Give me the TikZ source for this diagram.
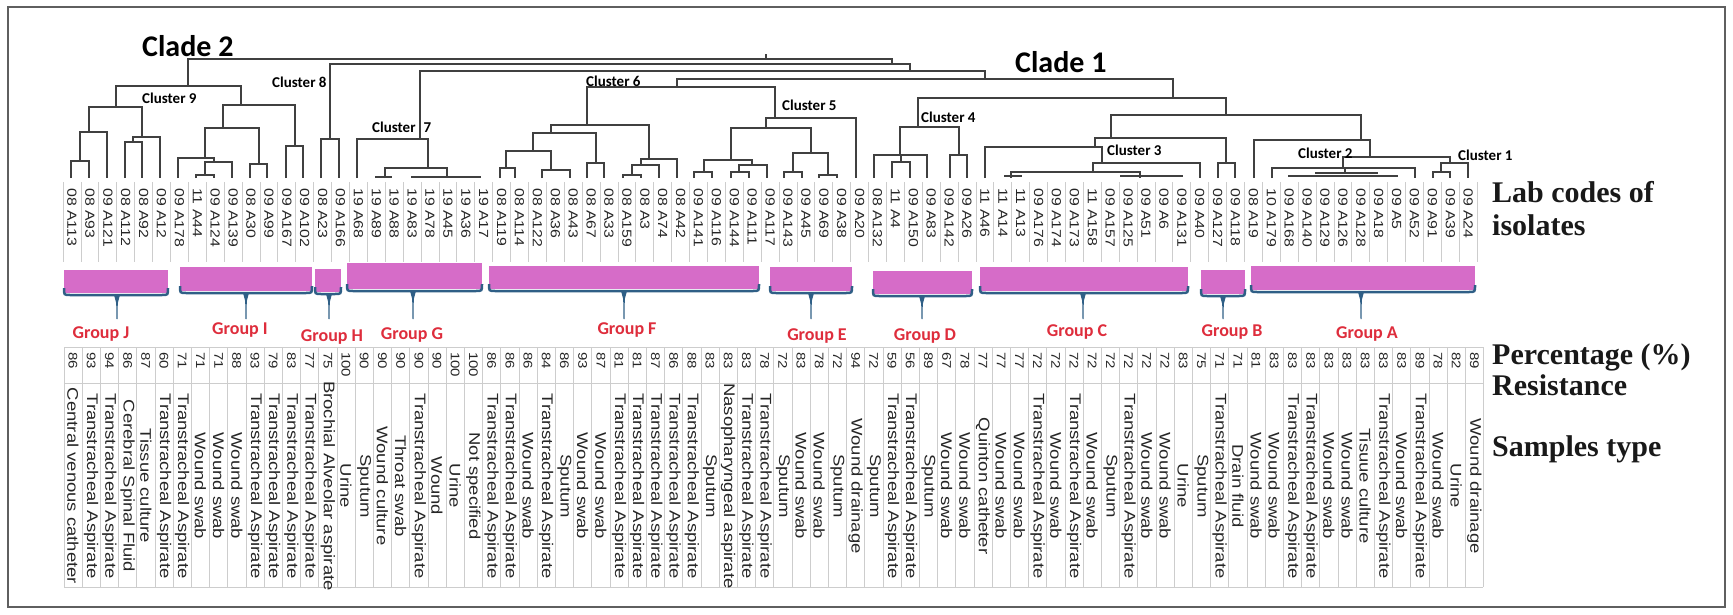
\documentclass[tikz,border=0pt]{standalone}
\usepackage{fontspec}
\setmainfont{Liberation Serif}
\newfontfamily\cellfont[FakeStretch=1.2]{Liberation Sans}
\newfontfamily\clusterfont{Carlito}

\definecolor{groupred}{RGB}{222,45,60}
\definecolor{groupfill}{RGB}{214,108,200}
\definecolor{groupedge}{RGB}{47,95,134}
\definecolor{gridgray}{RGB}{205,205,205}
\definecolor{framegray}{RGB}{95,95,95}

\tikzset{
  dendro/.style={draw=black!75, line width=1.2pt},
  codetext/.style={rotate=-90, anchor=west, inner sep=0pt, text=black!85,
    font=\cellfont\fontsize{13.2}{14}\selectfont},
  pcttext/.style={rotate=-90, anchor=west, inner sep=0pt, text=black!85,
    font=\cellfont\fontsize{12.5}{14}\selectfont},
  samptext/.style={rotate=-90, anchor=center, inner sep=0pt, text=black!85,
    font=\cellfont\fontsize{15.4}{17}\selectfont},
  clusterlabel/.style={anchor=west, inner sep=0pt,
    font=\clusterfont\bfseries\fontsize{15}{18}\selectfont},
  cladelabel/.style={anchor=west, inner sep=0pt,
    font=\clusterfont\bfseries\fontsize{30}{34}\selectfont},
  grouplabel/.style={inner sep=0pt, text=groupred,
    font=\clusterfont\bfseries\fontsize{18}{20}\selectfont},
  rowtitle/.style={anchor=base west, inner sep=0pt, text=black!90,
    font=\bfseries\fontsize{30}{34}\selectfont},
  gridline/.style={draw=gridgray, line width=0.8pt},
}

% one bracket of the tree: left x, left bottom, right x, right bottom, bar height
\newcommand\dbr[5]{\draw[dendro] (#1,#2) |- (#3,#5) -- (#3,#4);}

\begin{document}
\begin{tikzpicture}[x=1pt, y=-1pt]
  \useasboundingbox (0,0) rectangle (1733,614);
  \draw[framegray, line width=2pt] (8,7) rectangle (1725,607);

  \def\leafy{178}
  \def\TA{Transtracheal Aspirate}
  \def\WS{Wound swab}

  % Tree: root and main backbone
  \draw[dendro] (766,54) -- (766,59);
  \dbr{188}{86}{892}{64}{59}
  \dbr{330}{139}{910}{71}{64}
  \dbr{420}{139}{985}{79}{71}
  \dbr{677}{87}{1173}{98}{79}
  \dbr{918}{127}{1226}{115}{98}
  \dbr{1111}{138}{1361}{140}{115}

  % Cluster 9
  \dbr{116}{107}{241}{105}{86}
  \dbr{89}{132}{142}{137}{107}
  \dbr{80}{161}{107}{\leafy}{132}
  \dbr{71}{\leafy}{89}{\leafy}{161}
  \dbr{133}{142}{160}{\leafy}{137}
  \dbr{125}{\leafy}{142}{\leafy}{142}
  \dbr{223}{128}{295}{146}{105}
  \dbr{205}{158}{259}{164}{128}
  \dbr{178}{\leafy}{214}{162}{158}
  \dbr{205}{175}{232}{\leafy}{162}
  \dbr{196}{\leafy}{214}{\leafy}{175}
  \dbr{250}{\leafy}{267}{\leafy}{164}
  \dbr{286}{\leafy}{303}{\leafy}{146}

  % Cluster 8 and 7
  \dbr{321}{\leafy}{339}{\leafy}{139}
  \dbr{357}{\leafy}{428}{168}{139}
  \dbr{385}{\leafy}{447}{\leafy}{168}
  \draw[dendro] (375,177) -- (392,177) (411,177) -- (481,177);

  % Cluster 6
  \dbr{587}{125}{775}{118}{87}
  \dbr{551}{133}{649}{159}{125}
  \dbr{533}{151}{596}{163}{133}
  \dbr{506}{168}{551}{170}{151}
  \dbr{500}{\leafy}{515}{\leafy}{168}
  \dbr{542}{\leafy}{570}{\leafy}{170}
  \dbr{587}{\leafy}{604}{\leafy}{163}
  \dbr{641}{165}{677}{\leafy}{159}
  \dbr{632}{175}{659}{\leafy}{165}
  \dbr{623}{\leafy}{641}{\leafy}{175}

  % Cluster 5
  \dbr{766}{128}{856}{\leafy}{118}
  \dbr{731}{160}{811}{153}{128}
  \dbr{704}{172}{752}{165}{160}
  \dbr{694}{\leafy}{712}{\leafy}{172}
  \dbr{739}{172}{767}{\leafy}{165}
  \dbr{731}{\leafy}{749}{\leafy}{172}
  \dbr{793}{172}{828}{175}{153}
  \dbr{784}{\leafy}{802}{\leafy}{172}
  \dbr{819}{\leafy}{837}{\leafy}{175}

  % Cluster 4
  \dbr{900}{155}{959}{155}{127}
  \dbr{874}{\leafy}{927}{\leafy}{155}
  \draw[dendro] (901,155) -- (901,162);
  \dbr{892}{\leafy}{910}{\leafy}{162}
  \dbr{950}{\leafy}{967}{\leafy}{155}

  % Cluster 3
  \dbr{1095}{147}{1226}{163}{138}
  \dbr{1218}{\leafy}{1235}{\leafy}{163}
  \dbr{985}{\leafy}{1102}{163}{147}
  \dbr{1093}{172}{1200}{\leafy}{163}
  \dbr{1011}{\leafy}{1140}{\leafy}{172}
  \draw[dendro] (1004,176) -- (1022,176) (1120,176) -- (1183,176);

  % Cluster 2 and 1
  \dbr{1254}{\leafy}{1370}{157}{140}
  \dbr{1343}{168}{1450}{163}{157}
  \dbr{1272}{\leafy}{1415}{\leafy}{168}
  \draw[dendro] (1345,168) -- (1345,173) (1315,173) -- (1378,173) (1288,176) -- (1398,176);
  \dbr{1441}{172}{1468}{\leafy}{163}
  \dbr{1433}{\leafy}{1450}{\leafy}{172}

  % Clade and cluster names
  \node[cladelabel] (clade2) at (142,46) {Clade 2};
  \node[cladelabel] (clade1) at (1015,62) {Clade 1};
  \node[clusterlabel] (cl9) at (142,98) {Cluster 9};
  \node[clusterlabel] (cl8) at (272,82) {Cluster 8};
  \node[clusterlabel] (cl7) at (372,127) {Cluster\hspace{8pt}7};
  \node[clusterlabel] (cl6) at (586,81) {Cluster 6};
  \node[clusterlabel] (cl5) at (782,105) {Cluster 5};
  \node[clusterlabel] (cl4) at (921,117) {Cluster 4};
  \node[clusterlabel] (cl3) at (1107,150) {Cluster 3};
  \node[clusterlabel] (cl2) at (1298,153) {Cluster 2};
  \node[clusterlabel] (cl1) at (1458,155) {Cluster 1};

  % Lab codes of isolates
  \foreach \k in {0,...,79}
    \draw[gridline] ({63.05+17.9*\k},182) -- ({63.05+17.9*\k},262);
  \foreach \c [count=\i from 0] in {08 A113, 08 A93, 09 A121, 08 A112, 08 A92,
      09 A12, 09 A178, 11 A44, 09 A124, 09 A139, 08 A30, 09 A99, 09 A167,
      09 A102, 08 A23, 09 A166, 19 A68, 19 A89, 19 A88, 19 A83, 19 A78,
      19 A45, 19 A36, 19 A17, 08 A119, 08 A114, 08 A122, 08 A36, 08 A43,
      08 A67, 08 A33, 08 A159, 08 A3, 08 A74, 08 A42, 09 A141, 09 A116,
      09 A144, 09 A111, 09 A117, 09 A143, 09 A45, 09 A69, 09 A38, 09 A20,
      08 A132, 11 A4, 09 A150, 09 A83, 09 A142, 09 A26, 11 A46, 11 A14,
      11 A13, 09 A176, 09 A174, 09 A173, 11 A158, 09 A157, 09 A125, 09 A51,
      09 A6, 09 A131, 09 A40, 09 A127, 09 A118, 08 A19, 10 A179, 09 A168,
      09 A140, 09 A129, 09 A126, 09 A128, 09 A18, 09 A5, 09 A52, 09 A91,
      09 A39, 09 A24}
    \node[codetext] (code\i) at ({72+17.9*\i},188) {\c};

  % Group bars
  \foreach \xa/\xb/\yt/\yb/\xt/\nm/\lx/\ly in {
      64/168/270/295/117/J/101/334, 180/312/267/293/246/I/240/330,
      315/341/269/294/329/H/332/337, 347/482/263/291/413/G/412/335,
      489/759/266/291/624/F/627/330, 770/852/267/293/811/E/817/336,
      873/972/271/296/922/D/925/336, 980/1188/267/293/1083/C/1077/332,
      1201/1245/270/296/1223/B/1232/332, 1251/1475/266/292/1361/A/1367/334}{
    \fill[groupfill] (\xa,\yt) rectangle (\xb,\yb-2);
    \draw[groupedge, line width=2.5pt] (\xa,\yb-7) .. controls (\xa,\yb) .. (\xa+6,\yb)
      -- (\xb-6,\yb) .. controls (\xb,\yb) .. (\xb,\yb-7);
    \fill[groupedge] (\xt-3,\yb) -- (\xt+3,\yb) -- (\xt+0.8,\yb+8) -- (\xt+0.5,319)
      -- (\xt-0.5,319) -- (\xt-0.8,\yb+8) -- cycle;
    \node[grouplabel] (group\nm) at (\lx,\ly) {Group \nm};
  }

  % Percentage and sample table
  \foreach \k in {0,...,78}
    \draw[gridline] ({63.9+18.2*\k},347) -- ({63.9+18.2*\k},587);
  \draw[gridline] (64,347) -- (1483,347) (64,383) -- (1483,383) (64,587) -- (1483,587);
  \foreach \p/\s [count=\i from 0] in {86/Central venous catheter, 93/\TA, 94/\TA,
      86/Cerebral Spinal Fluid, 87/Tissue culture, 60/\TA, 71/\TA, 71/\WS,
      71/\WS, 88/\WS, 93/\TA, 79/\TA, 83/\TA, 77/\TA,
      75/Brochial Alveolar aspirate, 100/Urine, 90/Sputum, 90/Wound culture,
      90/Throat swab, 90/\TA, 90/Wound, 100/Urine, 100/Not specified, 86/\TA,
      86/\TA, 86/\WS, 84/\TA, 86/Sputum, 93/\WS, 87/\WS, 81/\TA, 81/\TA,
      87/\TA, 86/\TA, 88/\TA, 83/Sputum, 83/Nasopharyngeal aspirate, 83/\TA,
      78/\TA, 72/Sputum, 83/\WS, 78/\WS, 72/Sputum, 94/Wound drainage,
      72/Sputum, 59/\TA, 56/\TA, 89/Sputum, 67/\WS, 78/\WS,
      77/Quinton catheter, 77/\WS, 77/\WS, 72/\TA, 72/\WS, 72/\TA, 72/\WS,
      72/Sputum, 72/\TA, 72/\WS, 72/\WS, 83/Urine, 75/Sputum, 71/\TA,
      71/Drain fluid, 81/\WS, 83/\WS, 83/\TA, 83/\TA, 83/\WS, 83/\WS,
      83/Tisuue culture, 83/\TA, 83/\WS, 89/\TA, 78/\WS, 82/Urine,
      89/Wound drainage}{
    \node[pcttext] (pct\i) at ({73+18.2*\i},352) {\p};
    \node[samptext] (samp\i) at ({73+18.2*\i},486) {\s};
  }

  % Row titles
  \node[rowtitle] (labtitle) at (1492,202) {Lab codes of};
  \node[rowtitle] (labtitle2) at (1492,235) {isolates};
  \node[rowtitle] (pcttitle) at (1492,364) {Percentage (\%)};
  \node[rowtitle] (pcttitle2) at (1492,395) {Resistance};
  \node[rowtitle] (samptitle) at (1492,456) {Samples type};
\end{tikzpicture}
\end{document}
